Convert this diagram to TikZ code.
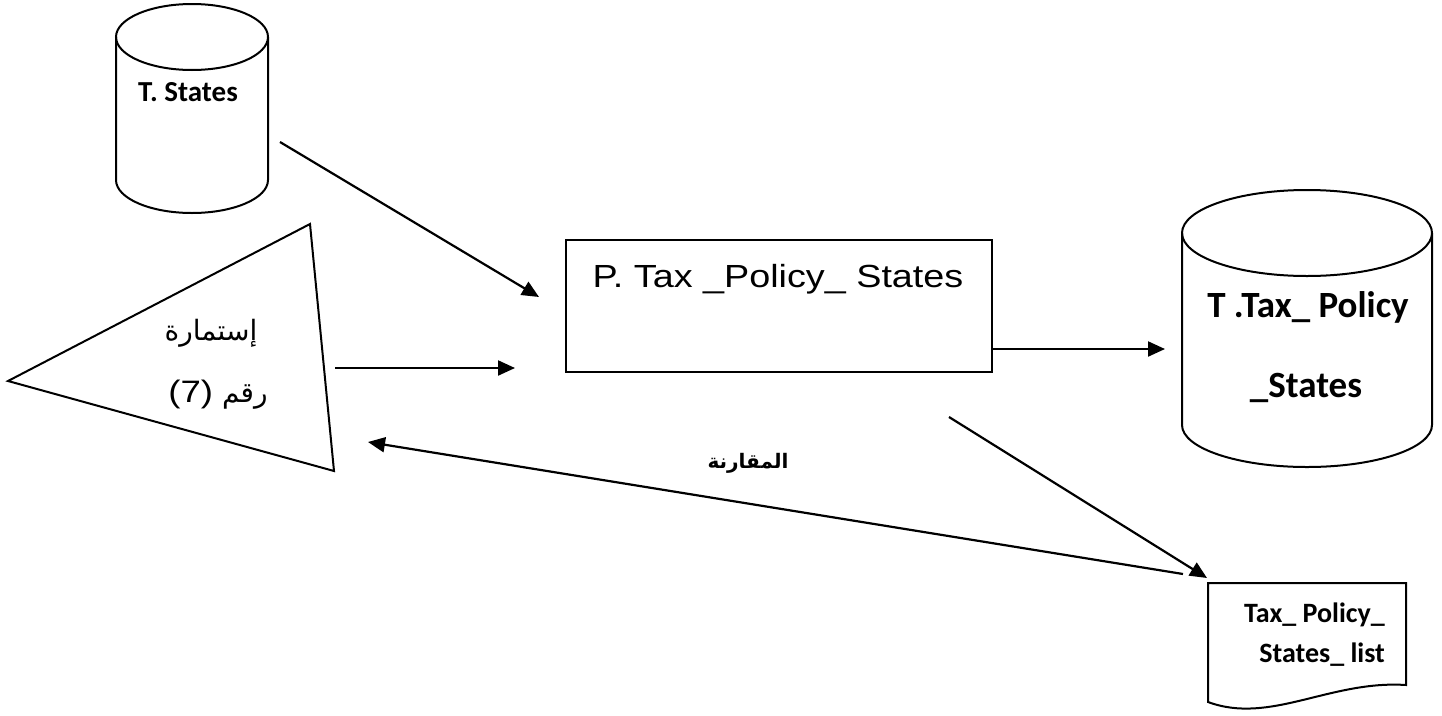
\documentclass[tikz,border=0pt]{standalone}
\usepackage{fontspec}
\setmainfont{Liberation Sans}
\newfontfamily\arialw[FakeStretch=1.18]{Liberation Sans}
\newfontfamily\calib{Carlito}
\newfontfamily\arabicfont[Script=Arabic]{DejaVu Sans}
\TeXXeTstate=1
\usetikzlibrary{arrows.meta}
\begin{document}
\begin{tikzpicture}[x=1pt,y=-1pt,
  shp/.style={draw=black,line width=2pt,line join=miter},
  flow/.style={line width=2.2pt,-{Triangle[length=17pt,width=15pt]}},
  lbl/.style={inner sep=0pt,anchor=base}]
\useasboundingbox (0,0) rectangle (1442,715);
% left cylinder
\draw[shp] (116,37) -- (116,180) arc[start angle=180,end angle=360,x radius=76pt,y radius=33pt] -- (268,37);
\draw[shp] (192,37) ellipse [x radius=76pt,y radius=33pt];
\node[lbl,font=\calib\bfseries\fontsize{29}{34}\selectfont] (ts) at (188,101) {T. States};
% right cylinder
\draw[shp] (1182,233) -- (1182,425) arc[start angle=180,end angle=360,x radius=125pt,y radius=42pt] -- (1432,233);
\draw[shp] (1307,233) ellipse [x radius=125pt,y radius=43pt];
\node[lbl,font=\calib\bfseries\fontsize{37}{44}\selectfont] (tt1) at (1308,317) {T .Tax\_ Policy};
\node[lbl,font=\calib\bfseries\fontsize{37}{44}\selectfont] (tt2) at (1306,397) {\_States};
% process box
\node[shp,minimum width=426pt,minimum height=132pt,inner sep=0pt] (proc) at (779,306) {};
\node[lbl,font=\arialw\fontsize{32}{38}\selectfont] (ptxt) at (778,287) {P. Tax \_Policy\_ States};
% triangle
\coordinate (tl) at (8,381);
\coordinate (tt) at (310,224);
\coordinate (tb) at (334,471);
\draw[shp] (tl) -- (tt) -- (tb) -- cycle;
\node[lbl,font=\arabicfont\fontsize{28}{32}\selectfont] (ar1) at (211,340) {\beginR إستمارة\endR};
\node[lbl,font=\arabicfont\fontsize{28}{32}\selectfont] (ar2) at (218,402) {\beginR رقم \beginL{\arialw\fontsize{31}{36}\selectfont(7)}\endL\endR};
% document
\draw[shp] (1208,583) -- (1406,583) -- (1406,685)
  .. controls (1330,680) and (1270,725) .. (1208,702) -- cycle;
\node[lbl,anchor=base east,font=\calib\bfseries\fontsize{28}{34}\selectfont] (d1) at (1385,622) {Tax\_ Policy\_};
\node[lbl,anchor=base east,font=\calib\bfseries\fontsize{28}{34}\selectfont] (d2) at (1385,662) {States\_ list};
% label
\node[lbl,font=\arabicfont\bfseries\fontsize{20}{24}\selectfont] (cmp) at (748,468) {\beginR المقارنة\endR};
% arrows
\coordinate (a1s) at (280,142); \coordinate (a1e) at (539,297);
\coordinate (a2s) at (335,368); \coordinate (a2e) at (515,368);
\coordinate (a3s) at (992,349); \coordinate (a3e) at (1165,349);
\coordinate (a4s) at (949,417); \coordinate (a4e) at (1207,578);
\coordinate (a5s) at (1183,574); \coordinate (a5e) at (368,442);
\draw[flow] (a1s) -- (a1e);
\draw[flow] (a2s) -- (a2e);
\draw[flow] (a3s) -- (a3e);
\draw[flow] (a4s) -- (a4e);
\draw[flow] (a5s) -- (a5e);
\end{tikzpicture}
\end{document}
